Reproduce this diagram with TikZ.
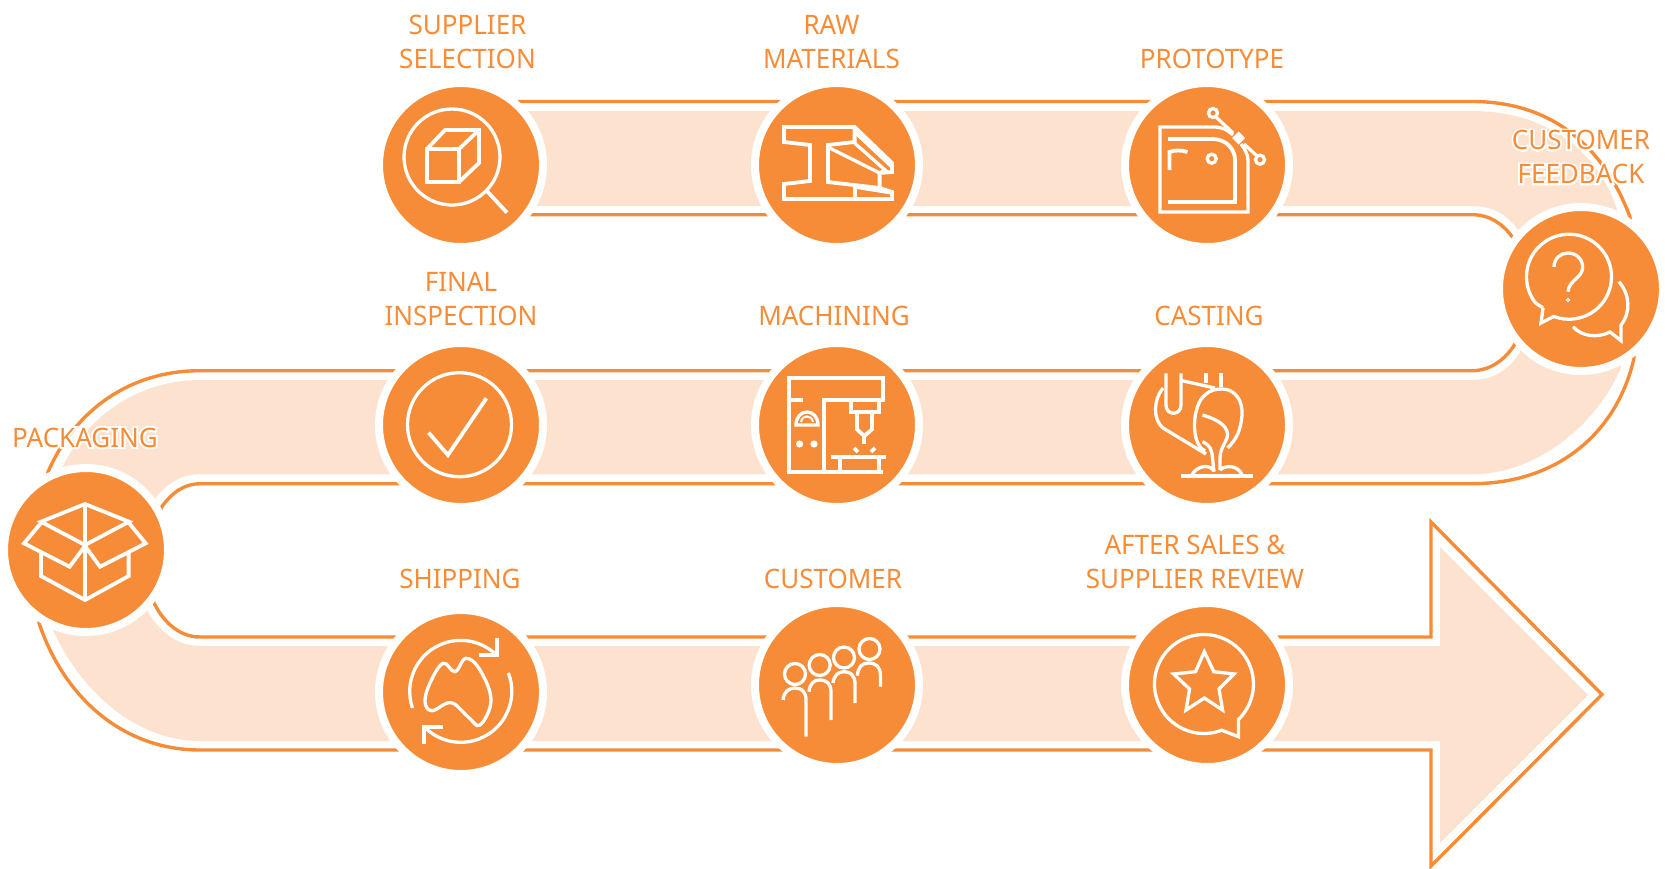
\documentclass[tikz,border=0pt]{standalone}
\usepackage{fontspec}
\setmainfont[FakeStretch=0.97]{Noto Sans}
\newfontfamily\halofont[FakeStretch=0.97,FakeBold=14]{Noto Sans}
\newcommand{\haloed}[1]{\leavevmode\rlap{\halofont\color{white}#1}#1}
\definecolor{brandor}{HTML}{F68C38}
\definecolor{brandlt}{HTML}{FDE3CF}
\tikzset{
  stepdisc/.style={circle,fill=brandor,draw=white,line width=4pt,minimum size=82pt,inner sep=0pt,outer sep=0pt},
  lab/.style={text=brandor,font=\fontsize{13.4pt}{17pt}\selectfont,inner sep=0pt,align=center,anchor=center},
  ico/.style={draw=white,line width=1.9pt,line join=miter,fill=none},
  thin ico/.style={draw=white,line width=1.65pt,fill=none},
}
\begin{document}
\begin{tikzpicture}[x=0.5pt,y=-0.5pt]
\useasboundingbox (0,0) rectangle (1665,868);
% band
\fill[brandlt] (461,111) -- (1472,111) .. controls (1550,111) and (1600,155) .. (1617,210)
 -- (1621,367) .. controls (1600,420) and (1540,474.3) .. (1472,474.3)
 -- (200,474.3) .. controls (180,474.3) and (165,485) .. (155,499)
 -- (148,612) .. controls (157,628) and (175,646) .. (200,646)
 -- (1440,646) -- (1440,547) -- (1588,695) -- (1440,843) -- (1440,741)
 -- (200,741) .. controls (135,741) and (80,690) .. (53,630)
 -- (62.5,467) .. controls (85,420) and (135,380) .. (200,380)
 -- (1472,380) .. controls (1495,380) and (1510,368) .. (1520,352)
 -- (1518,230) .. controls (1510,218) and (1495,206) .. (1472,206)
 -- (461,206) -- cycle;
\draw[brandor,line width=1.7pt,line join=miter] (461,101.5) -- (1472,101.5) .. controls (1555,101.5) and (1605,150) .. (1630,217)
 -- (1634,358) .. controls (1618,430) and (1560,483.7) .. (1472,483.7)
 -- (200,483.7) .. controls (185,483.7) and (172,492) .. (161,508)
 -- (153.6,602) .. controls (162,620) and (178,637) .. (200,637)
 -- (1431,637) -- (1431,522) -- (1602,694.5) -- (1431,866) -- (1431,750)
 -- (200,750) .. controls (125,750) and (65,700) .. (39,623)
 -- (48,472) .. controls (75,410) and (130,370.7) .. (200,370.7)
 -- (1472,370.7) .. controls (1490,370.7) and (1505,360) .. (1515,344)
 -- (1513,238) .. controls (1503,224) and (1490,214.7) .. (1472,214.7)
 -- (461,214.7) -- cycle;
% discs
\node[stepdisc] (supplier) at (461,165) {};
\node[stepdisc] (raw) at (837,165) {};
\node[stepdisc] (proto) at (1207,165) {};
\node[stepdisc] (feedback) at (1581,289) {};
\node[stepdisc] (casting) at (1207,425) {};
\node[stepdisc] (machining) at (837,425) {};
\node[stepdisc] (inspect) at (461,425) {};
\node[stepdisc] (packaging) at (86,550) {};
\node[stepdisc] (shipping) at (461,692) {};
\node[stepdisc] (customer) at (837,685) {};
\node[stepdisc] (review) at (1207,685) {};
% labels
\node[lab] (tsupplier) at (467.5,42) {SUPPLIER\\SELECTION};
\node[lab] (traw) at (831.5,42) {RAW\\MATERIALS};
\node[lab] (tproto) at (1212,59) {PROTOTYPE};
\node[lab] (tfeedback) at (1581,157) {\haloed{CUSTOMER}\\\haloed{FEEDBACK}};
\node[lab] (tcasting) at (1209,316) {CASTING};
\node[lab] (tmachining) at (834,316) {MACHINING};
\node[lab] (tinspect) at (461,299.5) {FINAL\\INSPECTION};
\node[lab] (tpackaging) at (85,437.5) {\haloed{PACKAGING}};
\node[lab] (tshipping) at (460,578.5) {SHIPPING};
\node[lab] (tcustomer) at (833,578.5) {CUSTOMER};
\node[lab] (treview) at (1195,561.5) {AFTER SALES \&\\SUPPLIER REVIEW};
% icon: magnifier + cube
\draw[thin ico] (452,157) circle (48);
\draw[ico] (486,190) -- (507,212.7);
\draw[ico] (427,149) rectangle (459,182);
\draw[ico] (427,149) -- (445,130) -- (479,130) -- (479,163) -- (459,182);
\draw[ico] (459,149) -- (479,130);
% icon: I-beam
\draw[ico] (784,127) -- (854.6,127) -- (892,163) -- (892,172) -- (879.6,173) -- (879.6,188) -- (892,192) -- (892,199) -- (784,199) -- (784,184) -- (810,181) -- (810,145) -- (784,142) -- cycle;
\draw[ico] (854.6,127) -- (854.6,142) -- (828,145) -- (828,182) -- (879.6,188);
\draw[ico] (854.6,199) -- (854.6,185);
\draw[thin ico] (829.6,148) -- (879.6,173);
\draw[thin ico] (854.6,143) -- (885,170) -- (879.6,173);
\draw[thin ico] (854.6,132) -- (892,167);
\draw[thin ico] (855,187) -- (892,193);
% icon: prototype
\draw[thin ico] (1233,135) .. controls (1228,130) and (1222,127) .. (1214,127) -- (1160,127) -- (1160,212) -- (1248,212) -- (1248,160) .. controls (1248,155) and (1245,149) .. (1241,144);
\draw[ico] (1168,139) -- (1212.5,139) .. controls (1226,139) and (1235,149) .. (1235,160) -- (1235,202) -- (1168,202);
\draw[ico] (1169.5,170) -- (1169.5,152) .. controls (1174,150) and (1182,150) .. (1187.5,152);
\draw[thin ico] (1211.7,158.7) circle (4.5);
\draw[thin ico] (1213,113) circle (4.5);
\draw[thin ico] (1260,159.7) circle (4.5);
\draw[thin ico] (1216,117) -- (1233,133);
\draw[thin ico] (1244,144) -- (1257,156);
\fill[white] (1232,138) -- (1238.5,131.5) -- (1245,138) -- (1238.5,144.5) -- cycle;
% icon: feedback
\draw[thin ico] (1543,308) -- (1535.5,302.9) arc[start angle=142,end angle=471,radius=42.5] -- (1541,323) -- (1543,308);
\draw[thin ico] (1554,267) .. controls (1554,258) and (1561,253) .. (1568,253) .. controls (1577,253) and (1583,260) .. (1582.6,268) .. controls (1582,278) and (1569,280) .. (1568,291.7);
\draw[draw=white,line width=0.5pt] (1568,300) circle (1.6);
\draw[thin ico] (1619,281.7) .. controls (1630,295) and (1631,312) .. (1621,325) -- (1621,340.7) -- (1610,332) .. controls (1598,338) and (1582,337) .. (1573,326.7);
% icon: check
\draw[thin ico] (459.5,424.7) circle (52);
\draw[ico] (428.6,432.7) -- (447.9,455) -- (486.4,398.3);
% icon: machining
\draw[ico] (802.5,400) -- (789,400) -- (789,378) -- (883,378) -- (883,400) -- (824,400) -- (824,471.7);
\draw[ico] (789,400) -- (789,471.7) -- (883,471.7);
\draw[ico] (850.7,400) -- (850.7,411.7) -- (878.6,411.7) -- (878.6,400);
\draw[ico] (857,411.7) -- (857,429.3) -- (864.3,436) -- (872,429.3) -- (872,411.7);
\draw[ico] (864.3,436) -- (864.3,444);
\draw[ico] (854,448) -- (858,452);
\draw[ico] (875,448) -- (871,452);
\draw[ico] (831,456.7) -- (886.4,456.7);
\draw[ico] (840,456.7) -- (840,471.7);
\draw[ico] (878.6,456.7) -- (878.6,471.7);
\draw[thin ico] (796,425) -- (818,425) .. controls (818,417) and (813,412) .. (807,412) .. controls (801,412) and (796,417) .. (796,425) -- cycle;
\draw[draw=white,line width=1pt] (801,422) .. controls (802,418) and (804,416.5) .. (807,416.5) .. controls (810,416.5) and (812,418) .. (813,422);
\fill[white] (799.6,444) circle (3.6);
\fill[white] (814,444) circle (3.6);
% icon: casting
\draw[thin ico] (1166,373.3) -- (1166,405) .. controls (1166,416) and (1181,416) .. (1181,405) -- (1181,373.3);
\draw[thin ico] (1182,380.7) -- (1215,388);
\draw[thin ico] (1206,373.3) -- (1206,383.3);
\draw[thin ico] (1221,373.3) -- (1221,386.7);
\draw[thin ico] (1163,388) .. controls (1153,400) and (1153,420) .. (1163,428) -- (1206,454);
\draw[thin ico] (1205,451) .. controls (1190,444) and (1192,405) .. (1205,395) .. controls (1210,390) and (1216,389) .. (1222,389) .. controls (1236,389) and (1243,402) .. (1242,415) .. controls (1241,430) and (1236,440) .. (1227.5,448);
\draw[thin ico] (1202.5,415) .. controls (1220,420) and (1230,428) .. (1227,438) .. controls (1224,445) and (1220,450) .. (1220,458) -- (1220,470);
\draw[thin ico] (1202.5,441.7) .. controls (1210,445) and (1212,450) .. (1212.5,458) -- (1214,471.7);
\draw[ico] (1181,476) -- (1252.5,476);
\draw[thin ico] (1192,475) .. controls (1195,468) and (1208,462) .. (1214,471);
\draw[thin ico] (1220,470) .. controls (1226,464) and (1239,466) .. (1242,475);
% icon: box
\draw[ico] (85,504) -- (129,521.7) -- (85,545) -- (41,521.7) -- cycle;
\draw[ico] (85,504) -- (85,600);
\draw[ico] (41,523) -- (24,543.3) -- (69.6,566.7) -- (85,546);
\draw[ico] (129,523) -- (145.7,543.3) -- (100,566.7) -- (85,546);
\draw[ico] (41,553) -- (41,576) -- (85,600) -- (128.6,576) -- (128.6,553);
% icon: shipping
\draw[thin ico] (412.5,708) arc[start angle=161,end angle=313,radius=51];
\draw[ico] (478.6,655) -- (497,655) -- (497,638);
\draw[thin ico] (508.4,673) arc[start angle=-21,end angle=133.7,radius=51];
\draw[ico] (443,726.7) -- (424,726.7) -- (424,744);
\draw[thin ico] plot[smooth cycle,tension=0.65] coordinates {(443,663.3) (455,671.7) (466,658.3) (480,670) (491,700) (480,725) (468,716.7) (451,702.7) (432,710.7) (425,701.7) (430,683)};
% icon: customers
\draw[thin ico] (795,674) circle (10.5);
\draw[thin ico] (819.7,665) circle (10.5);
\draw[thin ico] (844,657.5) circle (10.5);
\draw[thin ico] (869.5,649) circle (10.5);
\draw[thin ico] (783,700) .. controls (784,691) and (789,688) .. (795,688) .. controls (802,688) and (806,692) .. (806,700) -- (806,736.7);
\draw[thin ico] (809,691.7) .. controls (810,683) and (814,680) .. (819.6,680) .. controls (827,680) and (831,684) .. (831,692) -- (831,720);
\draw[thin ico] (833,683) .. controls (834,675) and (838,671.7) .. (844.4,671.7) .. controls (851,671.7) and (855,676) .. (855,684) -- (855,703);
\draw[thin ico] (857.4,675.7) .. controls (858,667) and (862,663) .. (868.6,663) .. controls (876,663) and (880.4,667) .. (880.4,675) -- (880.4,686.7);
% icon: review
\draw[thin ico] (1221.7,730.2) arc[start angle=69,end angle=405.7,radius=49.5] -- (1238.5,736.7) -- cycle;
\draw[thin ico] (1204.3,651.7) -- (1213.8,671.7) -- (1234,674) -- (1219,689) -- (1222.6,710) -- (1204.3,698) -- (1186,710) -- (1189.6,689) -- (1173.6,674) -- (1195.5,671.7) -- cycle;
\end{tikzpicture}
\end{document}
